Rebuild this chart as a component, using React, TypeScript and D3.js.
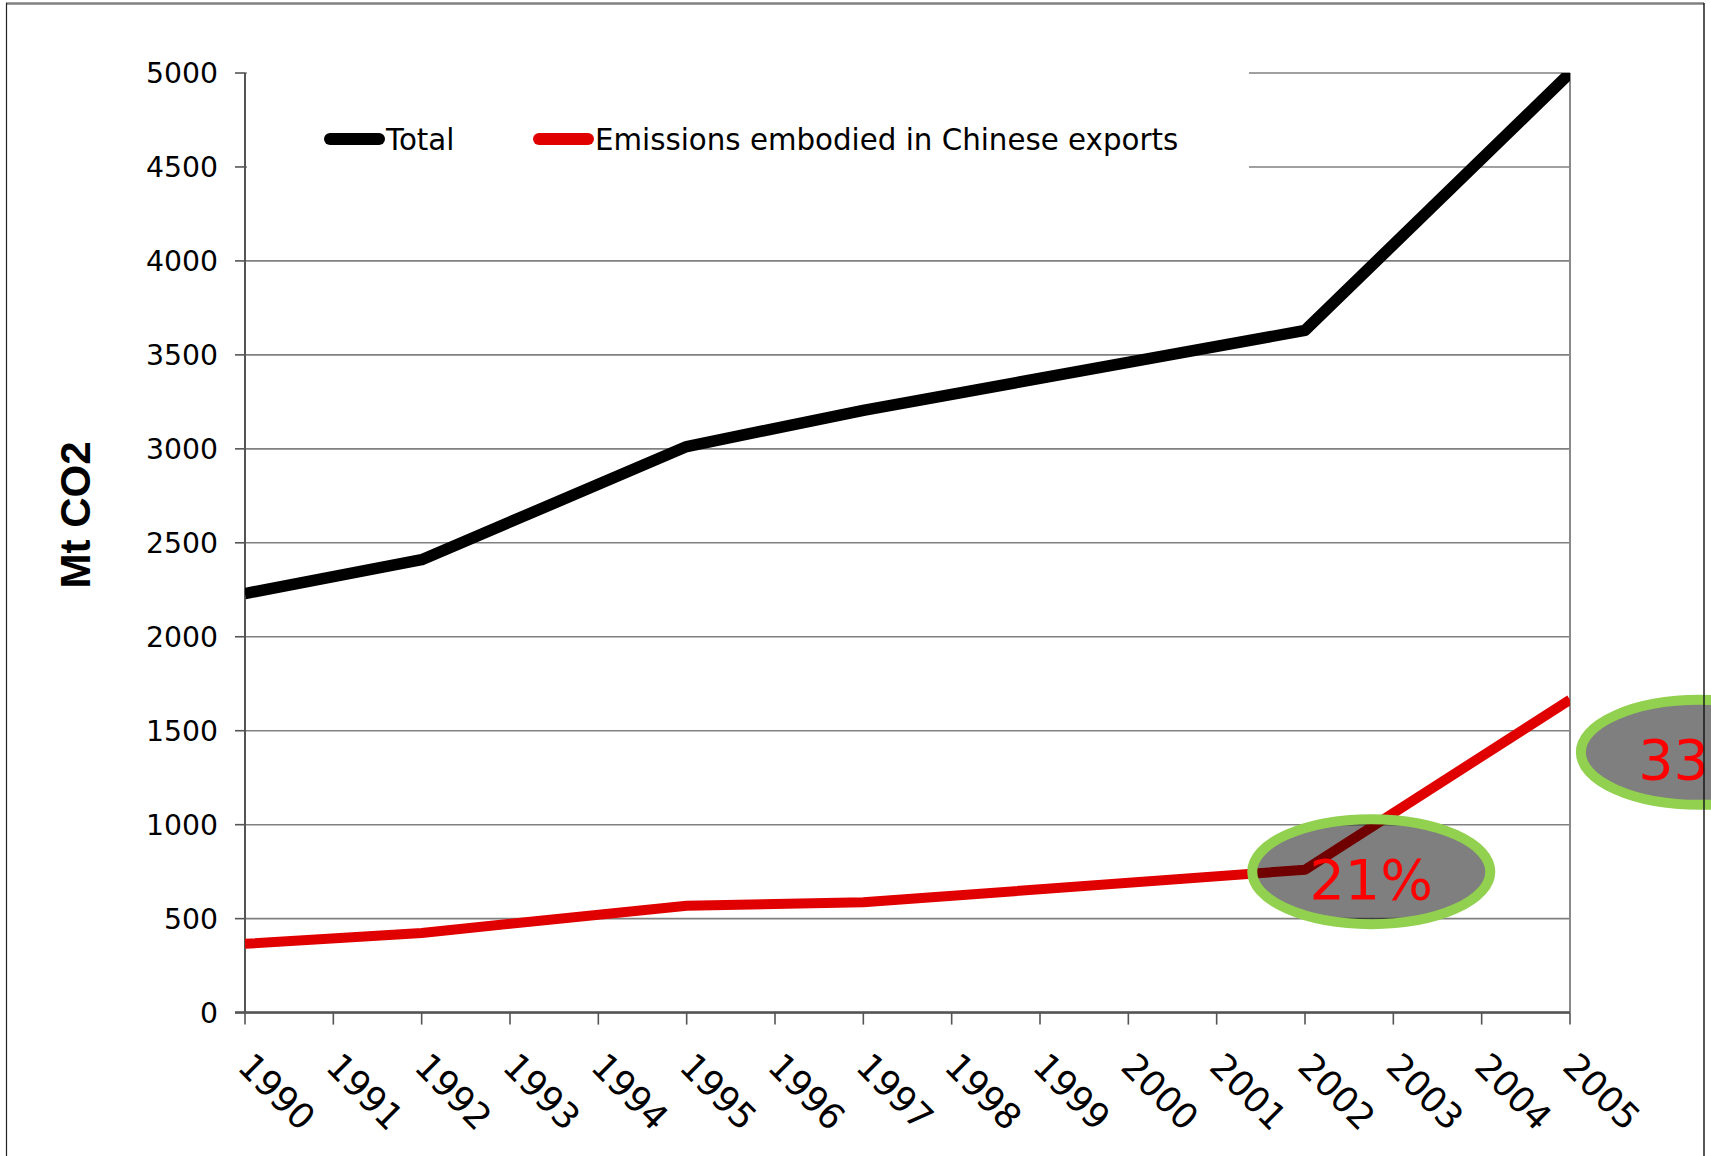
import React from "react";
import * as d3 from "d3";

const years = d3.range(1990, 2006);
const dataYears = [1990, 1992, 1995, 1997, 2002, 2005];
const totalValues = [2230, 2410, 3012, 3205, 3630, 5000];
const exportValues = [366, 424, 569, 587, 760, 1665];
const yTicks = [0, 500, 1000, 1500, 2000, 2500, 3000, 3500, 4000, 4500, 5000];
const seriesNames = ["Total", "Emissions embodied in Chinese exports"];
const seriesColors = ["#000000", "#E00000"];
const callouts = [
  { year: 2002.75, value: 750, label: "21%" },
  { year: 2006.47, value: 1385, label: "33%" },
];

const W = 1711;
const H = 1156;
const M = { left: 245, right: 1570, top: 73, bottom: 1012.6 };

export default function App() {
  const x = d3.scaleLinear().domain([1990, 2005]).range([M.left, M.right]);
  const y = d3.scaleLinear().domain([0, 5000]).range([M.bottom, M.top]);
  const line = d3
    .line<[number, number]>()
    .x((d) => x(d[0]))
    .y((d) => y(d[1]));
  const series = [totalValues, exportValues].map((vals) =>
    dataYears.map((yr, i) => [yr, vals[i]] as [number, number])
  );
  const font = "'DejaVu Sans', Verdana, sans-serif";

  return (
    <svg
      width={W}
      height={H}
      style={{ position: "absolute", left: 0, top: 0, background: "#fff" }}
      fontFamily={font}
    >
      <defs>
        <clipPath id="plot">
          <rect x={M.left} y={M.top} width={M.right - M.left} height={M.bottom - M.top} />
        </clipPath>
      </defs>
      <rect x={0} y={0} width={W} height={H} fill="#fff" />
      {/* gridlines */}
      {yTicks.map((t) => (
        <line key={t} x1={M.left} x2={M.right} y1={y(t)} y2={y(t)} stroke="#808080" strokeWidth={1.6} />
      ))}
      {/* right plot edge */}
      <line x1={M.right} x2={M.right} y1={M.top} y2={M.bottom} stroke="#8a8a8a" strokeWidth={2} />
      {/* legend box (white) */}
      <rect x={M.left + 2} y={60} width={1249 - M.left - 2} height={115} fill="#fff" />
      {/* legend */}
      {seriesNames.map((n, i) => {
        const lx = i === 0 ? 330 : 539;
        return (
          <g key={n}>
            <line x1={lx} x2={lx + 49} y1={139} y2={139} stroke={seriesColors[i]} strokeWidth={12} strokeLinecap="round" />
            <text x={lx + 56} y={149.5} fontSize={29.3} fill="#000">
              {n}
            </text>
          </g>
        );
      })}
      {/* y axis */}
      <line x1={M.left} x2={M.left} y1={M.top} y2={M.bottom} stroke="#555" strokeWidth={2} />
      {yTicks.map((t) => (
        <g key={t}>
          <line x1={M.left - 10} x2={M.left} y1={y(t)} y2={y(t)} stroke="#555" strokeWidth={1.6} />
          <text x={218} y={y(t)} dy="0.36em" textAnchor="end" fontSize={28.3} fill="#000">
            {t}
          </text>
        </g>
      ))}
      {/* x axis */}
      <line x1={M.left - 10} x2={M.right} y1={M.bottom} y2={M.bottom} stroke="#555" strokeWidth={2.5} />
      {years.map((yr) => (
        <g key={yr}>
          <line x1={x(yr)} x2={x(yr)} y1={M.bottom} y2={M.bottom + 12} stroke="#555" strokeWidth={1.6} />
          <text
            transform={`translate(${x(yr) - 9},${M.bottom + 56}) rotate(45)`}
            fontSize={35.5}
            fill="#000"
          >
            {yr}
          </text>
        </g>
      ))}
      {/* axis title */}
      <text
        transform={`translate(90,515) rotate(-90)`}
        textAnchor="middle"
        fontFamily="'Liberation Sans', Arial, sans-serif"
        fontWeight="bold"
        fontSize={42}
        fill="#000"
      >
        Mt CO2
      </text>
      {/* lines */}
      <g clipPath="url(#plot)">
        {series.map((s, i) => (
          <path
            key={i}
            d={line(s) || ""}
            fill="none"
            stroke={seriesColors[i]}
            strokeWidth={i === 0 ? 11.5 : 10}
            strokeLinejoin="round"
          />
        ))}
      </g>
      {/* callouts */}
      {callouts.map((c) => (
        <g key={c.label}>
          <ellipse
            cx={x(c.year)}
            cy={y(c.value)}
            rx={119}
            ry={52.5}
            fill="#000"
            fillOpacity={0.5}
            stroke="#92D050"
            strokeWidth={10}
          />
          <text x={x(c.year)} y={y(c.value) + 27} textAnchor="middle" fontSize={55.5} fill="#FF0000">
            {c.label}
          </text>
        </g>
      ))}
      {/* outer frame */}
      <line x1={6} x2={1704} y1={3.5} y2={3.5} stroke="#808080" strokeWidth={2.5} />
      <line x1={6.5} x2={6.5} y1={3} y2={H} stroke="#222" strokeWidth={1.2} />
      <line x1={1704} x2={1704} y1={3} y2={H} stroke="#111" strokeWidth={1.4} />
    </svg>
  );
}
